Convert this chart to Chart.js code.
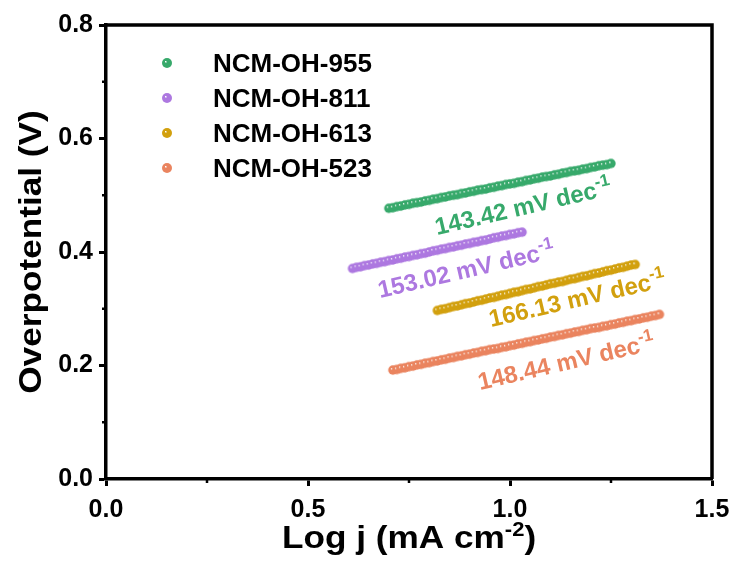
<!DOCTYPE html>
<html>
<head>
<meta charset="utf-8">
<script src="https://cdn.jsdelivr.net/npm/chart.js@4.4.1/dist/chart.umd.min.js"></script>
<style>
    html, body { margin: 0; padding: 0; background: #fff; }
</style>
</head>
<body>
<canvas id="chart_tafel" width="739" height="563"></canvas>
<script>
var FONT = '"Liberation Sans", Arial, sans-serif';

var seriesNames = ['NCM-OH-955', 'NCM-OH-811', 'NCM-OH-613', 'NCM-OH-523'];
var seriesColors = ['#37a96b', '#ad78e0', '#d2a00e', '#ea845f'];

var logJ955 = [0.70, 0.71, 0.72, 0.73, 0.74, 0.75, 0.76, 0.77, 0.78, 0.79, 0.80, 0.81, 0.82, 0.83, 0.84, 0.85, 0.86, 0.87, 0.88, 0.89,
    0.90, 0.91, 0.92, 0.93, 0.94, 0.95, 0.96, 0.97, 0.98, 0.99, 1.00, 1.01, 1.02, 1.03, 1.04, 1.05, 1.06, 1.07, 1.08, 1.09,
    1.10, 1.11, 1.12, 1.13, 1.14, 1.15, 1.16, 1.17, 1.18, 1.19, 1.20, 1.21, 1.22, 1.23, 1.24, 1.25];
var eta955 = [0.477, 0.478, 0.480, 0.481, 0.483, 0.484, 0.486, 0.487, 0.488, 0.490, 0.491, 0.493, 0.494, 0.496, 0.497, 0.499, 0.500, 0.501, 0.503, 0.504,
    0.506, 0.507, 0.509, 0.510, 0.511, 0.513, 0.514, 0.516, 0.517, 0.519, 0.520, 0.521, 0.523, 0.524, 0.526, 0.527, 0.529, 0.530, 0.532, 0.533,
    0.534, 0.536, 0.537, 0.539, 0.540, 0.542, 0.543, 0.544, 0.546, 0.547, 0.549, 0.550, 0.552, 0.553, 0.554, 0.556];

var logJ811 = [0.61, 0.62, 0.63, 0.64, 0.65, 0.66, 0.67, 0.68, 0.69, 0.70, 0.71, 0.72, 0.73, 0.74, 0.75, 0.76, 0.77, 0.78, 0.79, 0.80,
    0.81, 0.82, 0.83, 0.84, 0.85, 0.86, 0.87, 0.88, 0.89, 0.90, 0.91, 0.92, 0.93, 0.94, 0.95, 0.96, 0.97, 0.98, 0.99, 1.00,
    1.01, 1.02, 1.03];
var eta811 = [0.371, 0.373, 0.374, 0.376, 0.377, 0.379, 0.380, 0.382, 0.383, 0.385, 0.386, 0.388, 0.389, 0.391, 0.392, 0.394, 0.395, 0.397, 0.398, 0.400,
    0.402, 0.403, 0.405, 0.406, 0.408, 0.409, 0.411, 0.412, 0.414, 0.415, 0.417, 0.418, 0.420, 0.421, 0.423, 0.425, 0.426, 0.428, 0.429, 0.431,
    0.432, 0.434, 0.435];

var logJ613 = [0.82, 0.83, 0.84, 0.85, 0.86, 0.87, 0.88, 0.89, 0.90, 0.91, 0.92, 0.93, 0.94, 0.95, 0.96, 0.97, 0.98, 0.99, 1.00, 1.01,
    1.02, 1.03, 1.04, 1.05, 1.06, 1.07, 1.08, 1.09, 1.10, 1.11, 1.12, 1.13, 1.14, 1.15, 1.16, 1.17, 1.18, 1.19, 1.20, 1.21,
    1.22, 1.23, 1.24, 1.25, 1.26, 1.27, 1.28, 1.29, 1.30, 1.31];
var eta613 = [0.297, 0.299, 0.300, 0.302, 0.304, 0.305, 0.307, 0.309, 0.310, 0.312, 0.314, 0.315, 0.317, 0.319, 0.320, 0.322, 0.324, 0.325, 0.327, 0.329,
    0.330, 0.332, 0.334, 0.335, 0.337, 0.339, 0.340, 0.342, 0.344, 0.345, 0.347, 0.348, 0.350, 0.352, 0.353, 0.355, 0.357, 0.358, 0.360, 0.362,
    0.363, 0.365, 0.367, 0.368, 0.370, 0.372, 0.373, 0.375, 0.377, 0.378];

var logJ523 = [0.71, 0.72, 0.73, 0.74, 0.75, 0.76, 0.77, 0.78, 0.79, 0.80, 0.81, 0.82, 0.83, 0.84, 0.85, 0.86, 0.87, 0.88, 0.89, 0.90,
    0.91, 0.92, 0.93, 0.94, 0.95, 0.96, 0.97, 0.98, 0.99, 1.00, 1.01, 1.02, 1.03, 1.04, 1.05, 1.06, 1.07, 1.08, 1.09, 1.10,
    1.11, 1.12, 1.13, 1.14, 1.15, 1.16, 1.17, 1.18, 1.19, 1.20, 1.21, 1.22, 1.23, 1.24, 1.25, 1.26, 1.27, 1.28, 1.29, 1.30,
    1.31, 1.32, 1.33, 1.34, 1.35, 1.36, 1.37];
var eta523 = [0.192, 0.193, 0.195, 0.196, 0.198, 0.199, 0.201, 0.202, 0.204, 0.205, 0.207, 0.208, 0.210, 0.211, 0.213, 0.214, 0.216, 0.217, 0.219, 0.220,
    0.222, 0.223, 0.225, 0.226, 0.228, 0.229, 0.230, 0.232, 0.233, 0.235, 0.236, 0.238, 0.239, 0.241, 0.242, 0.244, 0.245, 0.247, 0.248, 0.250,
    0.251, 0.253, 0.254, 0.256, 0.257, 0.259, 0.260, 0.262, 0.263, 0.265, 0.266, 0.267, 0.269, 0.270, 0.272, 0.273, 0.275, 0.276, 0.278, 0.279,
    0.281, 0.282, 0.284, 0.285, 0.287, 0.288, 0.290];

// Tafel slope labels, anchored at a (log j, overpotential) position
var slopeValues = ['143.42', '153.02', '166.13', '148.44'];
var slopeLabelX = [0.819, 0.678, 0.953, 0.926];
var slopeLabelY = [0.430, 0.319, 0.268, 0.157];

var xMinorTicks = [0.25, 0.75, 1.25];
var yMinorTicks = [0.1, 0.3, 0.5, 0.7];

function makeBall(color, r) {
    var c = document.createElement('canvas');
    var s = Math.ceil(2 * r + 2);
    c.width = s;
    c.height = s;
    var g = c.getContext('2d');
    var m = s / 2;
    var grad = g.createRadialGradient(m - r * 0.3, m - r * 0.3, 0, m, m, r);
    grad.addColorStop(0, '#ffffff');
    grad.addColorStop(0.3, color);
    grad.addColorStop(1, color);
    g.fillStyle = grad;
    g.beginPath();
    g.arc(m, m, r, 0, Math.PI * 2);
    g.fill();
    return c;
}

function toPoints(xs, ys) {
    var out = [];
    for (var i = 0; i < xs.length; i++) {
        out.push({x: xs[i], y: ys[i]});
    }
    return out;
}

// draw text pieces (with superscripts), stretched horizontally by sx
function drawRich(ctx, parts, x, y, align, sx) {
    var widths = [];
    var total = 0;
    parts.forEach(function (p) {
        ctx.font = 'bold ' + p.size + 'px ' + FONT;
        var w = ctx.measureText(p.t).width * sx;
        widths.push(w);
        total += w;
    });
    var cx = align === 'center' ? x - total / 2 : x;
    ctx.textAlign = 'left';
    ctx.textBaseline = 'alphabetic';
    parts.forEach(function (p, i) {
        ctx.save();
        ctx.font = 'bold ' + p.size + 'px ' + FONT;
        ctx.translate(cx, y - (p.rise || 0));
        ctx.scale(sx, 1);
        ctx.fillText(p.t, 0, 0);
        ctx.restore();
        cx += widths[i];
    });
}

var balls = seriesColors.map(function (c) { return makeBall(c, 4.7); });
var legendBalls = seriesColors.map(function (c) { return makeBall(c, 5); });

var decorations = {
    id: 'decorations',
    afterDraw: function (chart) {
        var ctx = chart.ctx;
        var a = chart.chartArea;
        var xs = chart.scales.x;
        var ys = chart.scales.y;

        ctx.save();
        ctx.strokeStyle = '#000';
        ctx.lineWidth = 3.5;
        ctx.beginPath();
        ctx.moveTo(a.left - 1.75, a.top);
        ctx.lineTo(a.right, a.top);
        ctx.lineTo(a.right, a.bottom);
        ctx.stroke();

        ctx.lineWidth = 2.5;
        xMinorTicks.forEach(function (v) {
            var px = xs.getPixelForValue(v);
            ctx.beginPath();
            ctx.moveTo(px, a.bottom);
            ctx.lineTo(px, a.bottom + 4);
            ctx.stroke();
        });
        yMinorTicks.forEach(function (v) {
            var py = ys.getPixelForValue(v);
            ctx.beginPath();
            ctx.moveTo(a.left, py);
            ctx.lineTo(a.left - 4, py);
            ctx.stroke();
        });

        // axis titles
        ctx.fillStyle = '#000';
        drawRich(ctx, [
            {t: 'Log j (mA cm', size: 32},
            {t: '-2', size: 20, rise: 12},
            {t: ')', size: 32}
        ], (a.left + a.right) / 2, 548, 'center', 1.1);

        ctx.save();
        ctx.translate(41, (a.top + a.bottom) / 2);
        ctx.rotate(-Math.PI / 2);
        drawRich(ctx, [{t: 'Overpotential (V)', size: 32}], 0, 0, 'center', 1.1);
        ctx.restore();

        // legend
        seriesNames.forEach(function (name, i) {
            var by = 72 + i * 35;
            var b = legendBalls[i];
            ctx.drawImage(b, 167 - b.width / 2, by - 9 - b.height / 2);
            ctx.fillStyle = '#000';
            drawRich(ctx, [{t: name, size: 25}], 213, by, 'left', 1.04);
        });

        // slope labels
        slopeValues.forEach(function (s, i) {
            ctx.save();
            ctx.translate(xs.getPixelForValue(slopeLabelX[i]), ys.getPixelForValue(slopeLabelY[i]));
            ctx.rotate(-13 * Math.PI / 180);
            ctx.fillStyle = seriesColors[i];
            drawRich(ctx, [
                {t: s + ' mV dec', size: 24},
                {t: '-1', size: 17, rise: 10}
            ], 0, 0, 'left', 1.0);
            ctx.restore();
        });
        ctx.restore();
    }
};

var sets = [[logJ955, eta955], [logJ811, eta811], [logJ613, eta613], [logJ523, eta523]];

var tafelChart = new Chart(document.getElementById('chart_tafel'), {
    type: 'scatter',
    data: {
        datasets: sets.map(function (s, i) {
            return {
                label: seriesNames[i],
                data: toPoints(s[0], s[1]),
                pointStyle: balls[i],
                pointRadius: 4.7,
                backgroundColor: seriesColors[i],
                borderColor: seriesColors[i],
                showLine: false
            };
        })
    },
    options: {
        responsive: false,
        animation: false,
        layout: {
            padding: {top: 25, right: 27, bottom: 0, left: 0}
        },
        plugins: {
            legend: {display: false},
            tooltip: {enabled: false}
        },
        scales: {
            x: {
                type: 'linear',
                min: 0,
                max: 1.5,
                afterFit: function (s) { s.height = 84; },
                ticks: {
                    stepSize: 0.5,
                    callback: function (v) { return v.toFixed(1); },
                    font: {family: FONT, size: 25, weight: 'bold'},
                    color: '#000',
                    padding: 9,
                    maxRotation: 0
                },
                grid: {
                    drawOnChartArea: false,
                    drawTicks: true,
                    tickLength: 7,
                    tickWidth: 3,
                    tickColor: '#000',
                    color: '#000'
                },
                border: {display: true, color: '#000', width: 3.5}
            },
            y: {
                type: 'linear',
                min: 0,
                max: 0.8,
                afterFit: function (s) { s.width = 106; },
                ticks: {
                    stepSize: 0.2,
                    callback: function (v) { return v.toFixed(1); },
                    font: {family: FONT, size: 25, weight: 'bold'},
                    color: '#000',
                    padding: 6
                },
                grid: {
                    drawOnChartArea: false,
                    drawTicks: true,
                    tickLength: 7,
                    tickWidth: 3,
                    tickColor: '#000',
                    color: '#000'
                },
                border: {display: true, color: '#000', width: 3.5}
            }
        }
    },
    plugins: [decorations]
});
</script>
</body>
</html>
